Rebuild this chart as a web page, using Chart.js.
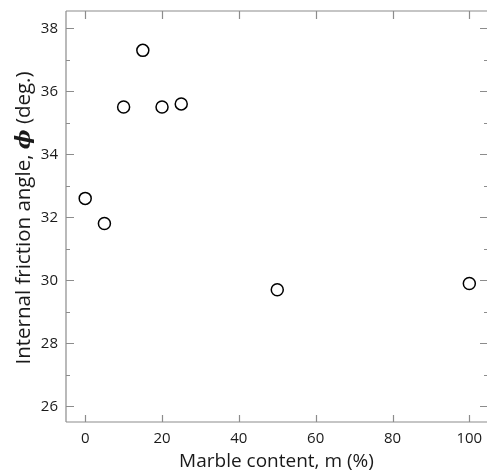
<!DOCTYPE html>
<html>
<head>
<meta charset="utf-8">
<script src="https://cdn.jsdelivr.net/npm/chart.js@4.4.1/dist/chart.umd.min.js"></script>
<style>
html,body{margin:0;padding:0;background:#fff;}
#wrap{width:487px;height:475px;position:relative;}
</style>
</head>
<body>
<div id="wrap"><canvas id="c"></canvas></div>
<script>
const marbleContent = [0, 5, 10, 15, 20, 25, 50, 100];
const frictionAngle = [32.6, 31.8, 35.5, 37.3, 35.5, 35.6, 29.7, 29.9];
const xTicks = [0, 20, 40, 60, 80, 100];
const yTicks = [26, 28, 30, 32, 34, 36, 38];
const yMinorTicks = [27, 29, 31, 33, 35, 37];
const xTitle = 'Marble content, m (%)';
const yTitleParts = ['Internal friction angle, ', 'ϕ', ' (deg.)'];

const FONT = '"Open Sans", "Noto Sans", sans-serif';
const FRAME = '#8c8c8c';

const framePlugin = {
  id: 'frame',
  afterDraw(chart) {
    const ctx = chart.ctx;
    const a = chart.chartArea;
    const xs = chart.scales.x, ys = chart.scales.y;
    ctx.save();
    ctx.strokeStyle = FRAME;
    ctx.lineWidth = 1.2;
    ctx.beginPath();
    ctx.moveTo(a.left, a.top); ctx.lineTo(a.left, a.bottom);
    ctx.moveTo(a.left, a.bottom); ctx.lineTo(a.right, a.bottom);
    ctx.moveTo(a.left, a.top); ctx.lineTo(a.right, a.top);
    xTicks.forEach(v => {
      const px = Math.round(xs.getPixelForValue(v)) + 0.5;
      ctx.moveTo(px, a.bottom); ctx.lineTo(px, a.bottom - 7);
      ctx.moveTo(px, a.top); ctx.lineTo(px, a.top + 8);
    });
    yTicks.forEach(v => {
      const py = Math.round(ys.getPixelForValue(v)) + 0.5;
      ctx.moveTo(a.left, py); ctx.lineTo(a.left + 8, py);
      ctx.moveTo(a.right, py); ctx.lineTo(a.right - 7, py);
    });
    yMinorTicks.forEach(v => {
      const py = Math.round(ys.getPixelForValue(v)) + 0.5;
      ctx.moveTo(a.left, py); ctx.lineTo(a.left + 4, py);
      ctx.moveTo(a.right, py); ctx.lineTo(a.right - 3, py);
    });
    ctx.stroke();

    ctx.fillStyle = '#1a1a1a';
    ctx.font = '19px ' + FONT;
    ctx.textAlign = 'center';
    ctx.textBaseline = 'alphabetic';
    ctx.fillText(xTitle, (a.left + a.right) / 2, 467);

    ctx.translate(30, 218);
    ctx.rotate(-Math.PI / 2);
    const fonts = ['20.5px ' + FONT, 'italic bold 21px "DejaVu Serif", serif', '20.5px ' + FONT];
    const widths = yTitleParts.map((t, i) => { ctx.font = fonts[i]; return ctx.measureText(t).width; });
    const total = widths.reduce((s, w) => s + w, 0);
    let x = -total / 2;
    ctx.textAlign = 'left';
    yTitleParts.forEach((t, i) => {
      ctx.font = fonts[i];
      ctx.fillText(t, x, 0);
      x += widths[i];
    });
    ctx.restore();
  }
};

new Chart(document.getElementById('c'), {
  type: 'scatter',
  data: {
    datasets: [{
      data: marbleContent.map((m, i) => ({ x: m, y: frictionAngle[i] })),
      pointStyle: 'circle',
      pointRadius: 6,
      pointHoverRadius: 6,
      pointBorderWidth: 1.5,
      borderColor: '#000',
      backgroundColor: '#fff'
    }]
  },
  options: {
    responsive: true,
    maintainAspectRatio: false,
    animation: false,
    events: [],
    layout: { autoPadding: false, padding: { top: 11, right: 0, left: 0, bottom: 0 } },
    plugins: { legend: { display: false }, tooltip: { enabled: false } },
    scales: {
      x: {
        type: 'linear',
        min: -5, max: 104.6,
        grid: { display: false, drawTicks: false },
        border: { display: false },
        afterBuildTicks: s => { s.ticks = xTicks.map(v => ({ value: v })); },
        afterFit: s => { s.height = 53; s.paddingLeft = 0; s.paddingRight = 0; },
        ticks: { font: { family: FONT, size: 15 }, color: '#1a1a1a', padding: 8, maxRotation: 0 }
      },
      y: {
        type: 'linear',
        min: 25.5, max: 38.55,
        grid: { display: false, drawTicks: false },
        border: { display: false },
        afterBuildTicks: s => { s.ticks = yTicks.map(v => ({ value: v })); },
        afterFit: s => { s.width = 66; s.paddingTop = 0; s.paddingBottom = 0; },
        ticks: { font: { family: FONT, size: 15 }, color: '#1a1a1a', padding: 8 }
      }
    }
  },
  plugins: [framePlugin]
});
</script>
</body>
</html>
